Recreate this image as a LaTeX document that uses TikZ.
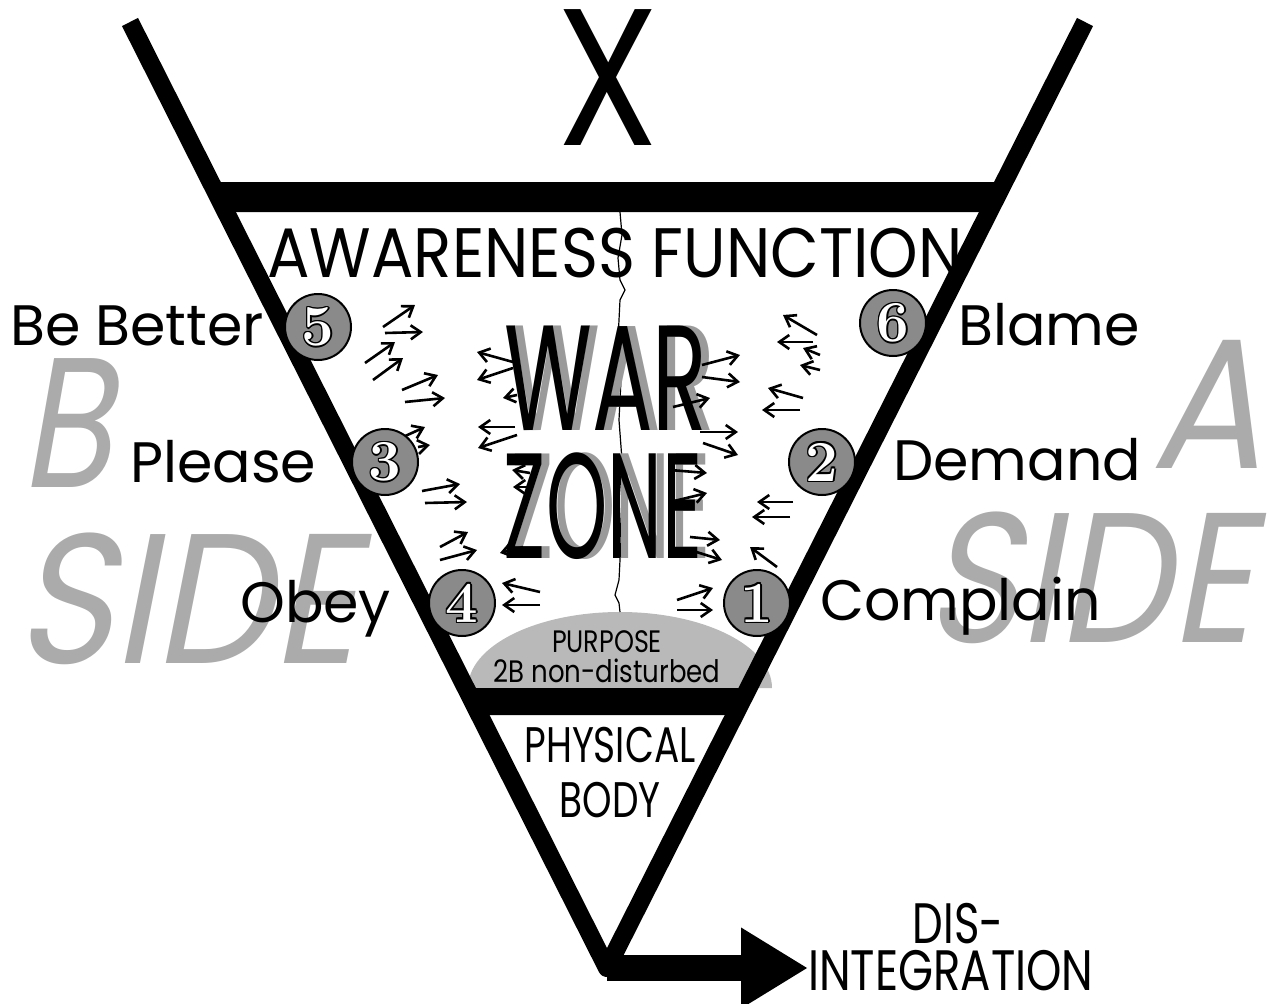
\documentclass[tikz,border=0pt]{standalone}
\usepackage{fontspec}
\usetikzlibrary{arrows.meta}
\newfontfamily\gothic{Poppins}
\newfontfamily\slantgothic{Poppins}[FakeSlant=0.22]
\definecolor{sidegrey}{HTML}{ABABAB}
\definecolor{ballgrey}{HTML}{8A8A8A}
\definecolor{domegrey}{HTML}{B9B9B9}
\definecolor{shadegrey}{HTML}{9A9A9A}
\tikzset{
  lbl/.style={font=\gothic\fontsize{57}{60}\selectfont, inner sep=0pt, anchor=base west},
  sideword/.style={text=sidegrey, font=\slantgothic\fontsize{185}{185}\selectfont, inner sep=0pt, anchor=base west},
  warword/.style={font=\gothic\fontsize{150}{150}\selectfont, inner sep=0pt, anchor=base},
  spark/.style={line width=2.6pt, -{Straight Barb[length=10pt,width=14pt]}},
  ball/.style={circle, fill=ballgrey, draw=black, line width=2pt, minimum size=66pt, inner sep=0pt},
  digit/.style={font=\fontsize{58}{58}\selectfont\bfseries, inner sep=0pt},
}

\begin{document}
\begin{tikzpicture}[x=1pt,y=-1pt]
\useasboundingbox (0,0) rectangle (1270,1004);

% big grey side letters
\node[sideword] (bletter) at (20,487) {\scalebox{0.8}[1]{B}};
\node[sideword] (bside) at (15,663) {\scalebox{0.9}[1]{SIDE}};
\node[sideword] (aletter) at (1150,468) {\scalebox{0.9}[1]{A}};
\node[sideword] (aside) at (925,642) {\scalebox{0.86}[1]{SIDE}};

% purpose dome
\fill[domegrey] (468,688) arc[start angle=180, end angle=360, x radius=152, y radius=76];
\node[font=\gothic\fontsize{31}{31}\selectfont, anchor=base, inner sep=0pt] (purpose) at (607,652) {\scalebox{0.82}[1]{PURPOSE}};
\node[font=\gothic\fontsize{31}{31}\selectfont, anchor=base, inner sep=0pt] (nondist) at (607,682) {\scalebox{0.84}[1]{2B non-disturbed}};

% the V and its bars
\coordinate (vertex) at (607,968);
\draw[line width=18pt, line join=round] (130,22) -- (vertex) -- (1085,22);
\fill (210,182) -- (1005,182) -- (989,212) -- (225,212) -- cycle;
\fill (464,688) -- (750,688) -- (736,715) -- (478,715) -- cycle;

% crack down the middle
\draw[line width=1.2pt] (620,212) -- (622,235) -- (618,258) -- (620,280) -- (625,290) -- (620,300)
  -- (618,340) -- (621,380) -- (619,420) -- (622,460) -- (619,500) -- (621,540)
  -- (619,580) -- (615,595) -- (619,603) -- (620,612);

\node[font=\gothic\fontsize{195}{195}\selectfont, anchor=base, inner sep=0pt] (x) at (608,145) {\scalebox{0.85}[1]{X}};
\node[font=\gothic\fontsize{70}{70}\selectfont, anchor=base, inner sep=0pt] (aware) at (615,277) {\scalebox{0.9}[1]{AWARENESS FUNCTION}};

% war zone
\node[warword, text=shadegrey] (warshade) at (614,430) {\scalebox{0.6}[1]{WAR}};
\node[warword] (war) at (606,430) {\scalebox{0.6}[1]{WAR}};
\node[warword, text=shadegrey] (zoneshade) at (611,558) {\scalebox{0.52}[1]{ZONE}};
\node[warword] (zone) at (603,558) {\scalebox{0.52}[1]{ZONE}};

% little arrows
\foreach \ax/\ay/\bx/\by in {
  383/327/415/305, 385/333/423/332, 365/363/395/342, 373/380/403/358,
  402/390/438/375, 405/402/445/398, 403/437/425/427, 418/447/430/445,
  422/491/460/484, 425/503/467/502, 440/547/468/532, 440/560/477/550,
  513/362/477/352, 513/368/477/380, 517/395/503/398, 515/427/478/427,
  517/435/478/448, 530/473/512/470, 533/487/513/487, 523/547/500/553,
  540/592/502/583, 540/605/502/605,
  702/365/740/355, 702/377/740/382, 673/407/710/398, 700/432/738/432,
  703/443/738/455, 670/470/707/473, 670/502/707/493, 690/537/720/540,
  690/550/722/560, 677/600/713/588, 677/610/713/610,
  817/335/783/315, 813/342/777/342, 820/355/803/348, 820/370/800/365,
  803/398/768/388, 800/410/762/410, 793/502/757/502, 790/517/752/517,
  777/567/750/547}
  \draw[spark] (\ax,\ay) -- (\bx,\by);

% numbered balls
\foreach \i/\x/\y in {5/318/327, 6/893/323, 3/385/462, 2/822/462, 4/462/603, 1/757/603} {
  \node[ball] (b\i) at (\x,\y) {};
  \foreach \a in {0,45,...,315}
    \node[digit, text=black] (d\i-\a) at ([shift={(\a:1.6)}]\x,\y) {\i};
  \node[digit, text=white] (n\i) at (\x,\y) {\i};
}

\node[lbl] (bebetter) at (10,345) {Be Better};
\node[lbl] (blame) at (958,345) {Blame};
\node[lbl] (please) at (130,482) {Please};
\node[lbl] (demand) at (893,480) {Demand};
\node[lbl] (obey) at (240,622) {Obey};
\node[lbl] (complain) at (820,620) {Complain};

\node[font=\gothic\fontsize{50}{50}\selectfont, anchor=base, inner sep=0pt] (physical) at (610,762) {\scalebox{0.75}[1]{PHYSICAL}};
\node[font=\gothic\fontsize{50}{50}\selectfont, anchor=base, inner sep=0pt] (body) at (610,817) {\scalebox{0.75}[1]{BODY}};

\node[lbl, anchor=base] (dis) at (958,943) {\scalebox{0.76}[1]{DIS-}};
\node[lbl, anchor=base west] (integ) at (808,990) {\scalebox{0.79}[1]{INTEGRATION}};
\draw[line width=26pt, -{Triangle[length=67pt,width=76pt]}] (vertex) -- (vertex -| integ.west);
\end{tikzpicture}
\end{document}
